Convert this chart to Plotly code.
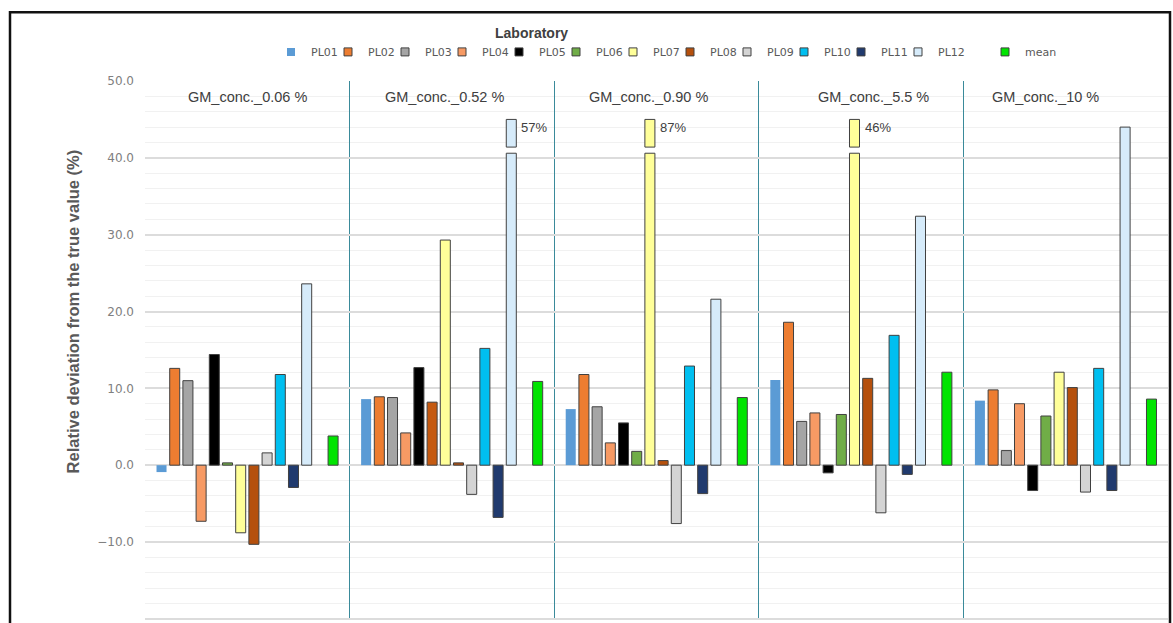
import plotly.graph_objects as go

# ---------------- data ----------------
groups = ["GM_conc._0.06 %", "GM_conc._0.52 %", "GM_conc._0.90 %", "GM_conc._5.5 %", "GM_conc._10 %"]
series_names = ["PL01", "PL02", "PL03", "PL04", "PL05", "PL06", "PL07", "PL08", "PL09", "PL10", "PL11", "PL12"]

PL01 = [-0.9, 8.6, 7.3, 11.1, 8.4]
PL02 = [12.6, 8.9, 11.8, 18.6, 9.8]
PL03 = [11.0, 8.8, 7.6, 5.7, 1.9]
PL04 = [-7.3, 4.2, 2.9, 6.8, 8.0]
PL05 = [14.4, 12.7, 5.5, -1.0, -3.3]
PL06 = [0.3, 8.2, 1.8, 6.6, 6.4]
PL07 = [-8.8, 29.3, 87.0, 46.0, 12.1]
PL08 = [-10.3, 0.3, 0.6, 11.3, 10.1]
PL09 = [1.6, -3.8, -7.6, -6.2, -3.5]
PL10 = [11.8, 15.2, 12.9, 16.9, 12.6]
PL11 = [-2.9, -6.8, -3.7, -1.2, -3.3]
PL12 = [23.6, 57.0, 21.6, 32.4, 44.0]
mean = [3.8, 10.9, 8.8, 12.1, 8.6]

y_ticks = [-20, -10, 0, 10, 20, 30, 40, 50]

# ---------------- styles ----------------
series_values = [PL01, PL02, PL03, PL04, PL05, PL06, PL07, PL08, PL09, PL10, PL11, PL12]
fill_colors = ["#5b9bd5", "#ed7d31", "#a5a5a5", "#f79a64", "#000000", "#70ad47",
               "#ffff99", "#b5500d", "#d4d4d4", "#00bff0", "#203a6e", "#d6ebfa"]
# per-point override (the 0.52 % PL06 bar is brown in the original)
point_colors = {5: ["#70ad47", "#c55a11", "#70ad47", "#70ad47", "#70ad47"]}
mean_color = "#00e400"
edge = "#404040"

CAP, BRK_LO, BRK_HI = 45.0, 40.6, 41.4   # broken-axis drawing of very large values
N_SLOTS = 14                              # 12 labs, one empty slot, mean
SLOT_W = 0.0645
BAR_W = 0.049


def slot_x(slot):
    return [g + (slot - (N_SLOTS - 1) / 2) * SLOT_W for g in range(len(groups))]


fig = go.Figure()
annotations = []


def add_series(name, vals, slot, color, line_w, legend):
    xs = slot_x(slot)
    shown = [BRK_LO if v > CAP else v for v in vals]
    fig.add_trace(go.Bar(x=xs, y=shown, width=BAR_W, name=name, showlegend=False,
                         marker=dict(color=color, line=dict(color=edge, width=line_w)),
                         hovertemplate=name + ": %{customdata}<extra></extra>",
                         customdata=vals))
    bx = [x for x, v in zip(xs, vals) if v > CAP]
    if bx:
        top_color = color
        if isinstance(color, list):
            top_color = [c for c, v in zip(color, vals) if v > CAP]
        fig.add_trace(go.Bar(x=bx, y=[CAP - BRK_HI] * len(bx), base=[BRK_HI] * len(bx),
                             width=BAR_W, showlegend=False, hoverinfo="skip",
                             marker=dict(color=top_color, line=dict(color=edge, width=line_w))))
        for x, v in zip(xs, vals):
            if v > CAP:
                annotations.append(dict(x=x + BAR_W / 2, y=43.9, xref="x", yref="y",
                                        text=f"{v:.0f}%", showarrow=False, xanchor="left",
                                        yanchor="middle", xshift=3,
                                        font=dict(family="Liberation Sans", size=13, color="#404040")))
    # legend entry
    lc = color[0] if isinstance(color, list) else color
    fig.add_trace(go.Scatter(x=[None], y=[None], mode="markers", name=name, legend=legend,
                             marker=dict(symbol="square", size=8, color=lc,
                                         line=dict(color=edge, width=line_w))))


for i, (name, vals) in enumerate(zip(series_names, series_values)):
    col = point_colors.get(i, fill_colors[i])
    add_series(name, vals, i, col, 0 if i == 0 else 1, "legend")
# empty series slot (as in the original chart's legend)
fig.add_trace(go.Scatter(x=[None], y=[None], mode="markers", name=" ", legend="legend",
                         hoverinfo="skip",
                         marker=dict(symbol="square", size=8, color="rgba(0,0,0,0)",
                                     line=dict(width=0))))
add_series("mean", mean, N_SLOTS - 1, mean_color, 1, "legend2")

# group labels
label_shift = [0, -7, -8, 12, -20]
for g, (lab, sh) in enumerate(zip(groups, label_shift)):
    annotations.append(dict(x=g, y=(619 - 97) / 538, xref="x", yref="paper", text=lab, showarrow=False,
                            xshift=sh, xanchor="center", yanchor="middle",
                            font=dict(family="Liberation Sans", size=14.5, color="#404040")))

# y-axis title
annotations.append(dict(x=-0.0704, y=0.5725, xref="paper", yref="paper",
                        text="<b>Relative deviation from the true value (%)</b>", textangle=-90,
                        showarrow=False, xanchor="center", yanchor="middle",
                        font=dict(family="Liberation Sans", size=16.5, color="#595959")))
# legend title
annotations.append(dict(x=(531 - 145) / 1023, y=(619 - 33) / 538, xref="paper", yref="paper",
                        text="<b>Laboratory</b>", showarrow=False, xanchor="center", yanchor="middle",
                        font=dict(family="Liberation Sans", size=14, color="#404040")))

fig.update_layout(
    width=1173, height=623,
    margin=dict(l=145, r=5, t=81, b=3),
    paper_bgcolor="white", plot_bgcolor="white",
    barmode="overlay",
    showlegend=True,
    legend=dict(orientation="h", x=(271 - 145) / 1023, xanchor="left", y=1.054, yanchor="middle",
                entrywidth=12, entrywidthmode="pixels", bgcolor="rgba(0,0,0,0)",
                font=dict(family="DejaVu Sans", size=11, color="#595959"), tracegroupgap=0),
    legend2=dict(orientation="h", x=(985 - 145) / 1023, xanchor="left", y=1.054, yanchor="middle",
                 bgcolor="rgba(0,0,0,0)",
                 font=dict(family="DejaVu Sans", size=11, color="#595959")),
    annotations=annotations,
    shapes=[dict(type="rect", xref="paper", yref="paper",
                 x0=(10 - 145) / 1023, x1=(1170 - 145) / 1023,
                 y0=-0.2, y1=(619 - 12.5) / 538,
                 line=dict(color="#111111", width=2.5), fillcolor="rgba(0,0,0,0)", layer="above")],
    xaxis=dict(range=[-0.5, len(groups) - 0.5], tickvals=[g + 0.5 for g in range(len(groups) - 1)],
               showticklabels=False, ticks="", showgrid=True, gridcolor="#3a8a9a", gridwidth=1.3,
               zeroline=False, showline=False),
    yaxis=dict(range=[-20.15, 50], tickvals=y_ticks, tickformat=".1f", showgrid=True,
               gridcolor="#dcdcdc", gridwidth=1.5, zeroline=False, showline=False, ticks="",
               ticklabelstandoff=10,
               tickfont=dict(family="DejaVu Sans", size=12, color="#808080"),
               minor=dict(dtick=2, showgrid=True, gridcolor="#f1f1f1", gridwidth=1)),
)

fig.write_html("out.html", config={"displayModeBar": False},
               post_script="document.body.style.margin='0';")
